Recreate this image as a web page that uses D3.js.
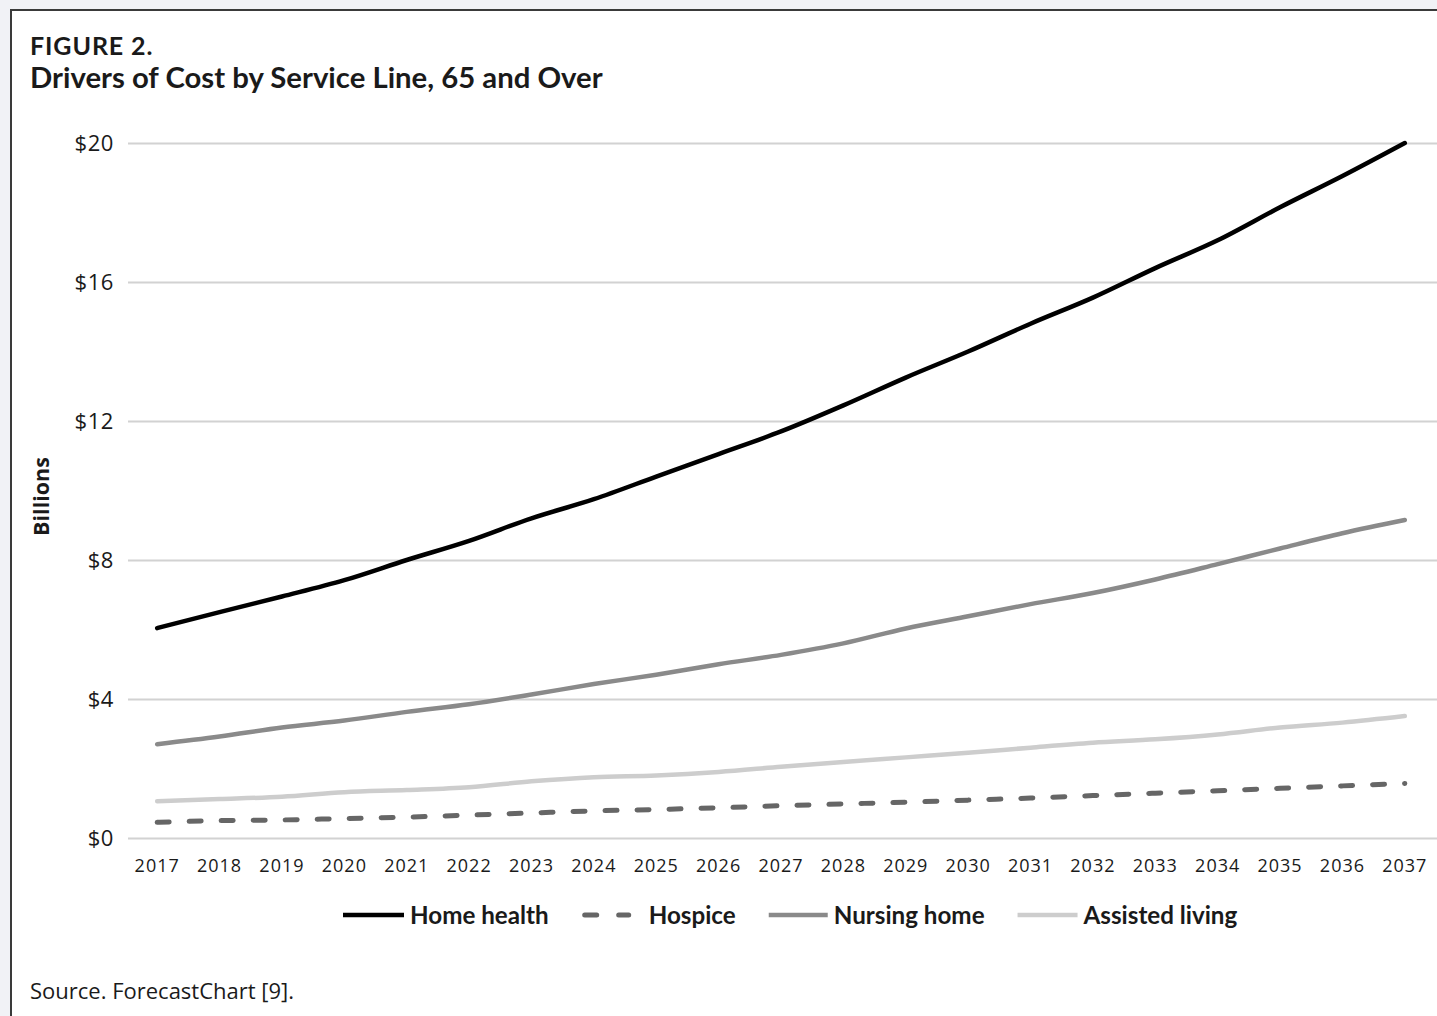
<!DOCTYPE html>
<html>
<head>
<meta charset="utf-8">
<script src="https://cdn.jsdelivr.net/npm/d3@7"></script>
<style>
  html, body { margin: 0; padding: 0; background: #f1f2f6; }
  svg { display: block; }
</style>
</head>
<body>
<svg id="chart" width="1437" height="1016"></svg>
<script>
// Projected spending by service line, 65 and over (billions of dollars)
const years = ["2017","2018","2019","2020","2021","2022","2023","2024","2025","2026","2027",
               "2028","2029","2030","2031","2032","2033","2034","2035","2036","2037"];
const homeHealth    = [6.04, 6.5, 6.95, 7.42, 8.0, 8.55, 9.2, 9.75, 10.4, 11.05, 11.7,
                       12.45, 13.25, 14.0, 14.8, 15.55, 16.4, 17.2, 18.15, 19.05, 20.0];
const hospice       = [0.45, 0.5, 0.52, 0.56, 0.6, 0.66, 0.72, 0.78, 0.82, 0.87, 0.93,
                       0.98, 1.03, 1.09, 1.15, 1.22, 1.29, 1.36, 1.43, 1.5, 1.57];
const nursingHome   = [2.7, 2.92, 3.18, 3.38, 3.63, 3.85, 4.13, 4.43, 4.7, 5.0, 5.27,
                       5.6, 6.03, 6.38, 6.73, 7.05, 7.44, 7.88, 8.33, 8.77, 9.15];
const assistedLiving= [1.06, 1.12, 1.19, 1.32, 1.38, 1.46, 1.63, 1.75, 1.8, 1.9, 2.05,
                       2.19, 2.32, 2.45, 2.6, 2.74, 2.84, 2.98, 3.18, 3.32, 3.51];
const seriesNames   = ["Home health", "Hospice", "Nursing home", "Assisted living"];
const yTicks        = [0, 4, 8, 12, 16, 20];

const series = [
  { name: seriesNames[0], values: homeHealth,     color: "#000000", width: 4.5, dash: null },
  { name: seriesNames[1], values: hospice,        color: "#666666", width: 5,   dash: "12,20" },
  { name: seriesNames[2], values: nursingHome,    color: "#8a8a8a", width: 4.5, dash: null },
  { name: seriesNames[3], values: assistedLiving, color: "#cdcdcd", width: 4.5, dash: null }
];

const svg = d3.select("#chart");

// Figure frame
svg.append("rect")
  .attr("x", 11).attr("y", 10)
  .attr("width", 1440).attr("height", 1030)
  .attr("fill", "#ffffff")
  .attr("stroke", "#3a3a3a").attr("stroke-width", 2);

// Titles
svg.append("text")
  .attr("x", 30).attr("y", 55)
  .attr("font-family", "Lato, 'Open Sans', sans-serif")
  .attr("font-weight", 700).attr("font-size", 25)
  .attr("letter-spacing", 0.9)
  .attr("fill", "#1a1a1a")
  .text("FIGURE 2.");
svg.append("text")
  .attr("x", 30).attr("y", 88)
  .attr("font-family", "Lato, 'Open Sans', sans-serif")
  .attr("font-weight", 700).attr("font-size", 29.3)
  .attr("fill", "#1a1a1a")
  .text("Drivers of Cost by Service Line, 65 and Over");

// Plot area
const plotLeft = 126, plotRight = 1436, plotTop = 143, plotBottom = 838;

const x = d3.scaleBand().domain(years).range([plotLeft, plotRight]);
const y = d3.scaleLinear().domain([0, 20]).range([plotBottom, plotTop]);
const xc = d => x(d) + x.bandwidth() / 2;

// Horizontal gridlines with dollar labels
const yAxis = d3.axisLeft(y)
  .tickValues(yTicks)
  .tickSize(-(plotRight - plotLeft + 2))
  .tickPadding(14)
  .tickFormat(d => "$" + d);
const gy = svg.append("g")
  .attr("transform", `translate(${plotLeft + 2},0)`)
  .call(yAxis);
gy.select(".domain").remove();
gy.selectAll(".tick line").attr("stroke", "#d2d2d2").attr("stroke-width", 2);
gy.selectAll(".tick text")
  .attr("font-family", "'Open Sans', sans-serif")
  .attr("font-size", 22).attr("letter-spacing", 0.6)
  .attr("fill", "#1a1a1a");

// Year labels
const xAxis = d3.axisBottom(x).tickSize(0).tickPadding(21);
const gx = svg.append("g")
  .attr("transform", `translate(0,${plotBottom})`)
  .call(xAxis);
gx.select(".domain").remove();
gx.selectAll(".tick text")
  .attr("font-family", "'Open Sans', sans-serif")
  .attr("font-size", 18).attr("letter-spacing", 1)
  .attr("fill", "#1a1a1a");

// Y-axis title
svg.append("text")
  .attr("transform", `translate(49,${(plotTop + plotBottom) / 2 + 6}) rotate(-90)`)
  .attr("text-anchor", "middle")
  .attr("font-family", "'Open Sans', sans-serif")
  .attr("font-weight", 700).attr("font-size", 21.5)
  .attr("fill", "#1a1a1a")
  .text("Billions");

// Series lines
const line = d3.line()
  .x((d, i) => xc(years[i]))
  .y(d => y(d))
  .curve(d3.curveMonotoneX);

const drawOrder = [series[3], series[1], series[2], series[0]];
svg.append("g").selectAll("path")
  .data(drawOrder)
  .join("path")
  .attr("d", s => line(s.values))
  .attr("fill", "none")
  .attr("stroke", s => s.color)
  .attr("stroke-width", s => s.width)
  .attr("stroke-dasharray", s => s.dash)
  .attr("stroke-linecap", "round")
  .attr("stroke-linejoin", "round");

// Legend
const legend = svg.append("g").attr("transform", "translate(0,915)");
let lx = 343;
const sampleW = [61, 50, 59, 60];
const sampleGap = [6, 17, 6, 6];
series.forEach((s, i) => {
  const g = legend.append("g");
  g.append("line")
    .attr("x1", lx + (s.dash ? 3 : 0)).attr("x2", lx + sampleW[i] - (s.dash ? 3 : 0))
    .attr("y1", 0).attr("y2", 0)
    .attr("stroke", s.color).attr("stroke-width", s.width)
    .attr("stroke-dasharray", s.dash ? "12,22" : null)
    .attr("stroke-linecap", s.dash ? "round" : "butt");
  const t = g.append("text")
    .attr("x", lx + sampleW[i] + sampleGap[i]).attr("y", 8.5)
    .attr("font-family", "Lato, sans-serif")
    .attr("font-weight", 700).attr("font-size", 24.2)
    .attr("fill", "#1a1a1a")
    .text(s.name);
  lx = lx + sampleW[i] + sampleGap[i] + t.node().getComputedTextLength() + 33;
});

// Source note
svg.append("text")
  .attr("x", 30).attr("y", 999)
  .attr("font-family", "'Open Sans', sans-serif")
  .attr("font-size", 22).attr("fill", "#1a1a1a")
  .text("Source. ForecastChart [9].");
</script>
</body>
</html>
